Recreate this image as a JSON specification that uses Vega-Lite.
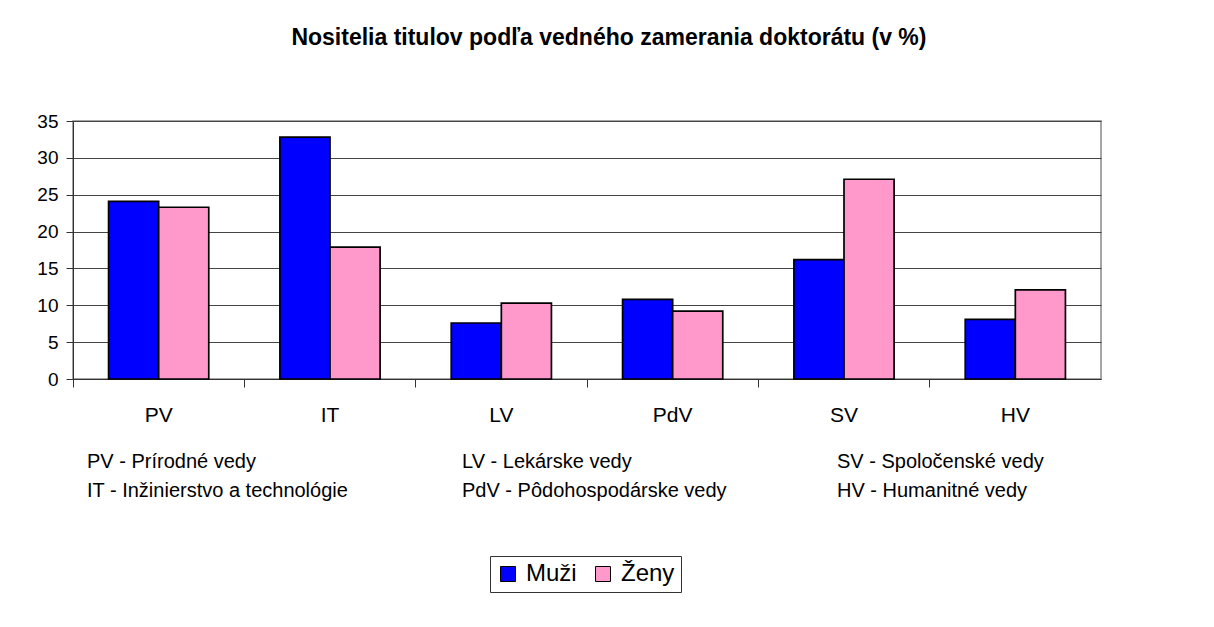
{
  "$schema": "https://vega.github.io/schema/vega-lite/v6.json",
  "background": "white",
  "padding": {"left": 36, "top": 27, "right": 10, "bottom": 10},
  "title": {"text": "Nositelia titulov podľa vedného zamerania doktorátu (v %)", "fontSize": 23, "font": "Liberation Sans", "fontWeight": "bold", "color": "black", "anchor": "middle", "offset": 61, "dx": 40},
  "datasets": {
    "bars": [
      {"kat": "PV", "pohlavie": "Muži", "hodnota": 24.1},
      {"kat": "PV", "pohlavie": "Ženy", "hodnota": 23.3},
      {"kat": "IT", "pohlavie": "Muži", "hodnota": 32.8},
      {"kat": "IT", "pohlavie": "Ženy", "hodnota": 17.9},
      {"kat": "LV", "pohlavie": "Muži", "hodnota": 7.6},
      {"kat": "LV", "pohlavie": "Ženy", "hodnota": 10.3},
      {"kat": "PdV", "pohlavie": "Muži", "hodnota": 10.8},
      {"kat": "PdV", "pohlavie": "Ženy", "hodnota": 9.2},
      {"kat": "SV", "pohlavie": "Muži", "hodnota": 16.2},
      {"kat": "SV", "pohlavie": "Ženy", "hodnota": 27.1},
      {"kat": "HV", "pohlavie": "Muži", "hodnota": 8.1},
      {"kat": "HV", "pohlavie": "Ženy", "hodnota": 12.1}
    ],
    "skratky": [
      {"stlpec": 1, "riadok": 1, "text": "PV - Prírodné vedy"},
      {"stlpec": 1, "riadok": 2, "text": "IT  - Inžinierstvo a technológie"},
      {"stlpec": 2, "riadok": 1, "text": "LV - Lekárske vedy"},
      {"stlpec": 2, "riadok": 2, "text": "PdV - Pôdohospodárske vedy"},
      {"stlpec": 3, "riadok": 1, "text": "SV  - Spoločenské vedy"},
      {"stlpec": 3, "riadok": 2, "text": "HV  - Humanitné vedy"}
    ]
  },
  "spacing": 21,
  "vconcat": [
    {
      "data": {"name": "bars"},
      "width": 1028,
      "height": 258,
      "view": {"stroke": "#888888", "strokeWidth": 1.5},
      "mark": {"type": "bar", "stroke": "black", "strokeWidth": 1.7},
      "encoding": {
        "x": {
          "field": "kat", "type": "nominal",
          "sort": ["PV", "IT", "LV", "PdV", "SV", "HV"],
          "scale": {"paddingInner": 0, "paddingOuter": 0},
          "axis": {"title": null, "labelAngle": 0, "bandPosition": 0, "tickSize": 8, "labelPadding": 17, "labelFontSize": 21, "labelColor": "black", "domainColor": "#333333", "tickColor": "#333333", "grid": false}
        },
        "xOffset": {
          "field": "pohlavie", "type": "nominal",
          "sort": ["Muži", "Ženy"],
          "scale": {"paddingInner": 0, "paddingOuter": 0.71}
        },
        "y": {
          "field": "hodnota", "type": "quantitative",
          "scale": {"domain": [0, 35], "nice": false},
          "axis": {"title": null, "values": [0, 5, 10, 15, 20, 25, 30, 35], "tickSize": 7, "labelPadding": 8, "labelFontSize": 19, "labelColor": "black", "domainColor": "#333333", "tickColor": "#333333", "gridColor": "#444444", "gridOpacity": 1}
        },
        "color": {
          "field": "pohlavie", "type": "nominal",
          "scale": {"domain": ["Muži", "Ženy"], "range": ["#0000FF", "#FF99CC"]},
          "legend": {"title": null, "orient": "none", "legendX": 417, "legendY": 435, "direction": "horizontal", "symbolType": "square", "symbolSize": 225, "symbolStrokeColor": "black", "symbolStrokeWidth": 1, "symbolOpacity": 1, "labelFontSize": 24, "labelColor": "black", "strokeColor": "#333333", "padding": 6, "columnPadding": 14, "labelOffset": 6}
        }
      }
    },
    {
      "data": {"name": "skratky"},
      "width": 1028,
      "height": 58,
      "view": {"stroke": null},
      "mark": {"type": "text", "align": "left", "baseline": "middle", "fontSize": 20, "font": "Liberation Sans", "color": "black"},
      "encoding": {
        "x": {"field": "stlpec", "type": "ordinal", "scale": {"type": "point", "range": [14, 764], "padding": 0}, "axis": null},
        "y": {"field": "riadok", "type": "ordinal", "axis": null},
        "text": {"field": "text"}
      }
    }
  ],
  "config": {"font": "Liberation Sans"}
}
